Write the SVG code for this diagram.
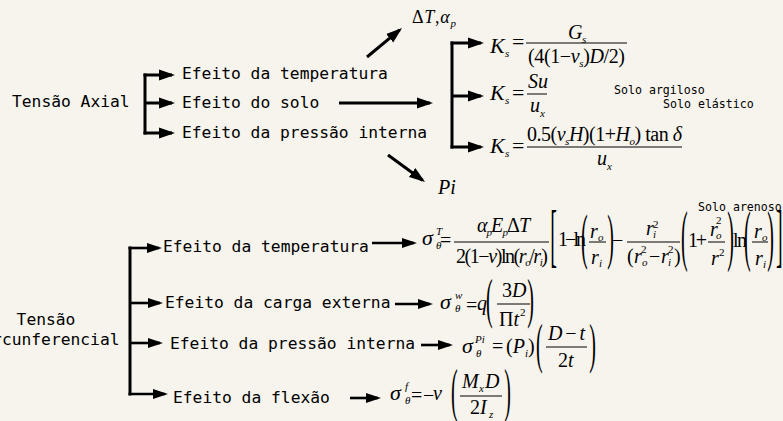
<svg xmlns="http://www.w3.org/2000/svg" width="783" height="421" viewBox="0 0 783 421">
<defs>
<marker id="ah" markerUnits="userSpaceOnUse" markerWidth="16" markerHeight="12" refX="13" refY="6" orient="auto" viewBox="0 0 16 12"><path d="M0,0.5 L16,6 L0,11.5 z" fill="#000"/></marker>
<marker id="ah2" markerUnits="userSpaceOnUse" markerWidth="15" markerHeight="11" refX="12" refY="5.5" orient="auto" viewBox="0 0 15 11"><path d="M0,0.5 L15,5.5 L0,10.5 z" fill="#000"/></marker>
</defs>
<style>
.mono{font-family:"DejaVu Sans Mono","Liberation Mono",monospace;font-size:16.3px;fill:#000}
.sm{font-size:11.6px}
.m{font-family:"Liberation Serif","Times New Roman",serif;font-size:20px;fill:#000}
.big{font-size:22px}
.i{font-style:italic}
.s{font-size:11px}
.br{stroke:#000;stroke-width:3;fill:none}
.ar{stroke:#000;stroke-width:3;fill:none;marker-end:url(#ah)}
.ar2{stroke:#000;stroke-width:2.6;fill:none;marker-end:url(#ah2)}
.fr{stroke:#000;stroke-width:1}
</style>
<rect width="783" height="421" fill="#f7f4ed"/>

<g id="connectors">
<path class="br" d="M145,73.5 V134.5"/>
<line class="ar" x1="143.5" y1="75" x2="172" y2="75"/>
<line class="ar" x1="145" y1="103" x2="172" y2="103"/>
<line class="ar" x1="143.5" y1="133" x2="172" y2="133"/>
<line class="ar" x1="339" y1="103" x2="430" y2="103"/>
<line class="ar" x1="367" y1="57" x2="399.7" y2="29.9"/>
<line class="ar" x1="388" y1="155" x2="422.6" y2="180.2"/>
<path class="br" d="M452,41.5 V148.5"/>
<line class="ar" x1="450.5" y1="43" x2="481" y2="43"/>
<line class="ar" x1="452" y1="96" x2="481" y2="96"/>
<line class="ar" x1="450.5" y1="147" x2="481" y2="147"/>
<path class="br" d="M130,246.5 V395.5"/>
<line class="ar2" x1="128.5" y1="248" x2="159" y2="248"/>
<line class="ar2" x1="130" y1="303" x2="160" y2="303"/>
<line class="ar2" x1="130" y1="343" x2="160" y2="343"/>
<line class="ar2" x1="128.5" y1="394" x2="165" y2="394"/>
<line class="ar2" x1="372" y1="243" x2="414" y2="243"/>
<line class="ar2" x1="395" y1="304" x2="430" y2="304"/>
<line class="ar2" x1="421" y1="345" x2="450" y2="345"/>
<line class="ar2" x1="350" y1="398" x2="378" y2="398"/>
</g>

<g id="tensao-axial"><text class="mono" x="12" y="107">Tensão Axial</text></g>
<g id="ax-temp"><text class="mono" x="182" y="79">Efeito da temperatura</text></g>
<g id="ax-solo"><text class="mono" x="182" y="108">Efeito do solo</text></g>
<g id="ax-pressao"><text class="mono" x="182" y="138">Efeito da pressão interna</text></g>

<g id="dt-alpha"><text class="m" x="412" y="23" style="font-size:18px" textLength="44" lengthAdjust="spacing">Δ<tspan class="i">T</tspan>,<tspan class="i">α</tspan><tspan class="i s" dy="4">p</tspan></text></g>
<g id="pi"><text class="m i" x="438" y="194">Pi</text></g>

<g id="ks-1">
<text class="m i big" x="490" y="53">K</text><text class="m i s" x="505" y="57">s</text>
<text class="m big" x="512" y="48.5">=</text>
<text class="m i" x="568" y="39">G</text><text class="m i s" x="582" y="43">s</text>
<line class="fr" x1="526" y1="43" x2="627" y2="43"/>
<text class="m" x="528" y="63" textLength="97" lengthAdjust="spacing">(4(1−<tspan class="i">v</tspan><tspan class="i s" dy="4">s</tspan><tspan dy="-4">)</tspan><tspan class="i">D</tspan>/2)</text>
</g>
<g id="ks-2">
<text class="m i big" x="490" y="100">K</text><text class="m i s" x="505" y="104">s</text>
<text class="m big" x="512" y="99.5">=</text>
<text class="m i" x="528" y="88">Su</text>
<line class="fr" x1="527" y1="94" x2="547" y2="94"/>
<text class="m i" x="530" y="112">u</text><text class="m i s" x="540" y="117">x</text>
</g>
<g id="ks-3">
<text class="m i big" x="490" y="153">K</text><text class="m i s" x="505" y="157">s</text>
<text class="m big" x="512" y="152.5">=</text>
<text class="m" x="527" y="141" textLength="155" lengthAdjust="spacing">0.5(<tspan class="i">v</tspan><tspan class="i s" dy="4">s</tspan><tspan class="i" dy="-4">H</tspan>)(1+<tspan class="i">H</tspan><tspan class="i s" dy="4">o</tspan><tspan dy="-4">) tan </tspan><tspan class="i">δ</tspan></text>
<line class="fr" x1="527" y1="147" x2="682" y2="147"/>
<text class="m i" x="597" y="165">u</text><text class="m i s" x="607" y="170">x</text>
</g>
<g id="solo-labels">
<text class="mono sm" x="614" y="94">Solo argiloso</text>
<text class="mono sm" x="663" y="108">Solo elástico</text>
<text class="mono sm" x="698" y="211">Solo arenoso</text>
</g>

<g id="tensao-circ"><text class="mono" x="46" y="325" text-anchor="middle">Tensão</text><text class="mono" x="46" y="345" text-anchor="middle">Circunferencial</text></g>
<g id="ci-temp"><text class="mono" x="163" y="252">Efeito da temperatura</text></g>
<g id="ci-carga"><text class="mono" x="165" y="308">Efeito da carga externa</text></g>
<g id="ci-pressao"><text class="mono" x="170" y="349">Efeito da pressão interna</text></g>
<g id="ci-flexao"><text class="mono" x="173" y="403">Efeito da flexão</text></g>

<g id="sigma-t">
<text class="m i big" x="422" y="245">σ</text><text class="m i s" x="436" y="235">T</text><text class="m i s" x="436" y="249">θ</text>
<text class="m" x="440" y="246.5">=</text>
<text class="m" x="477" y="232" textLength="53" lengthAdjust="spacing"><tspan class="i">α</tspan><tspan class="i s" dy="4">p</tspan><tspan class="i" dy="-4">E</tspan><tspan class="i s" dy="4">p</tspan><tspan dy="-4">Δ</tspan><tspan class="i">T</tspan></text>
<line class="fr" x1="454" y1="242" x2="549" y2="242"/>
<text class="m" x="456" y="263" textLength="92" lengthAdjust="spacing">2(1−<tspan class="i">v</tspan>)ln(<tspan class="i">r</tspan><tspan class="i s" dy="3">o</tspan><tspan dy="-3">/</tspan><tspan class="i">r</tspan><tspan class="i s" dy="3">i</tspan><tspan dy="-3">)</tspan></text>
<text class="m" transform="translate(550.2,258.7) scale(1,3.54)">[</text>
<text class="m" x="558" y="246" textLength="28" lengthAdjust="spacing">1−ln</text>
<text class="m" transform="translate(581,256.9) scale(1,3.1)">(</text>
<text class="m i" x="590" y="238">r</text><text class="m i s" x="598" y="241">o</text>
<line class="fr" x1="589" y1="242" x2="606" y2="242"/>
<text class="m i" x="591" y="264">r</text><text class="m i s" x="599" y="267">i</text>
<text class="m" transform="translate(607.3,256.9) scale(1,3.1)">)</text>
<text class="m" x="612" y="247">−</text>
<text class="m i" x="646" y="235">r</text><text class="m s" x="653" y="228">2</text><text class="m i s" x="653" y="238">i</text>
<line class="fr" x1="627" y1="242" x2="680" y2="242"/>
<text class="m" x="627" y="263">(</text><text class="m i" x="634" y="263">r</text><text class="m s" x="641" y="253">2</text><text class="m i s" x="642" y="266">o</text>
<text class="m" x="649" y="263">−</text><text class="m i" x="661" y="263">r</text><text class="m s" x="668" y="253">2</text><text class="m i s" x="668" y="266">i</text><text class="m" x="674" y="263">)</text>
<text class="m" transform="translate(681,258) scale(1,3.33)">(</text>
<text class="m" x="688" y="247" textLength="19" lengthAdjust="spacing">1+</text>
<text class="m i" x="710" y="236">r</text><text class="m s" x="716" y="224">2</text><text class="m i s" x="716" y="239">o</text>
<line class="fr" x1="708" y1="242" x2="725" y2="242"/>
<text class="m i" x="711" y="265">r</text><text class="m s" x="719" y="256">2</text>
<text class="m" transform="translate(727.3,258) scale(1,3.33)">)</text>
<text class="m" x="733" y="247" textLength="14" lengthAdjust="spacing">ln</text>
<text class="m" transform="translate(744,258) scale(1,3.33)">(</text>
<text class="m i" x="754" y="238">r</text><text class="m i s" x="762" y="241">o</text>
<line class="fr" x1="752" y1="242" x2="768" y2="242"/>
<text class="m i" x="755" y="265">r</text><text class="m i s" x="763" y="268">i</text>
<text class="m" transform="translate(767.3,258) scale(1,3.33)">)</text>
<text class="m" transform="translate(776,258.7) scale(1,3.54)">]</text>
</g>

<g id="sigma-w">
<text class="m i big" x="440" y="309">σ</text><text class="m i s" x="455" y="299">w</text><text class="m i s" x="455" y="312">θ</text>
<text class="m" x="466" y="312">=</text>
<text class="m i" x="477" y="310">q</text>
<text class="m" transform="translate(486,317.1) scale(1,2.75)">(</text>
<text class="m" x="502" y="297">3<tspan class="i">D</tspan></text>
<line class="fr" x1="497" y1="304" x2="530" y2="304"/>
<text class="m" x="499" y="326">Π<tspan class="i">t</tspan></text><text class="m s" x="520" y="316">2</text>
<text class="m" transform="translate(527.3,317.1) scale(1,2.75)">)</text>
</g>

<g id="sigma-pi">
<text class="m i big" x="462" y="353">σ</text><text class="m i s" x="475" y="343">Pi</text><text class="m i s" x="476" y="357">θ</text>
<text class="m" x="492" y="353">=</text>
<text class="m" x="506" y="353">(<tspan class="i">P</tspan><tspan class="i s" dy="4">i</tspan><tspan dy="-4">)</tspan></text>
<text class="m" transform="translate(536,362.1) scale(1,2.75)">(</text>
<text class="m" x="548" y="340" textLength="37" lengthAdjust="spacing"><tspan class="i">D</tspan> − <tspan class="i">t</tspan></text>
<line class="fr" x1="546" y1="347" x2="587" y2="347"/>
<text class="m" x="558" y="367">2<tspan class="i">t</tspan></text>
<text class="m" transform="translate(589.3,362.1) scale(1,2.75)">)</text>
</g>

<g id="sigma-f">
<text class="m i big" x="390" y="400">σ</text><text class="m i s" x="405" y="390">f</text><text class="m i s" x="405" y="404">θ</text>
<text class="m" x="411" y="402">=</text><text class="m" x="423" y="402">−</text><text class="m i" x="433" y="400">v</text>
<text class="m" transform="translate(451,409.5) scale(1,2.92)">(</text>
<text class="m i" x="462" y="388">M</text><text class="m i s" x="479" y="392">x</text><text class="m i" x="485" y="388">D</text>
<line class="fr" x1="460" y1="396" x2="502" y2="396"/>
<text class="m" x="470" y="414">2<tspan class="i">I</tspan></text><text class="m i s" x="489" y="418">z</text>
<text class="m" transform="translate(504.3,409.5) scale(1,2.92)">)</text>
</g>
</svg>
